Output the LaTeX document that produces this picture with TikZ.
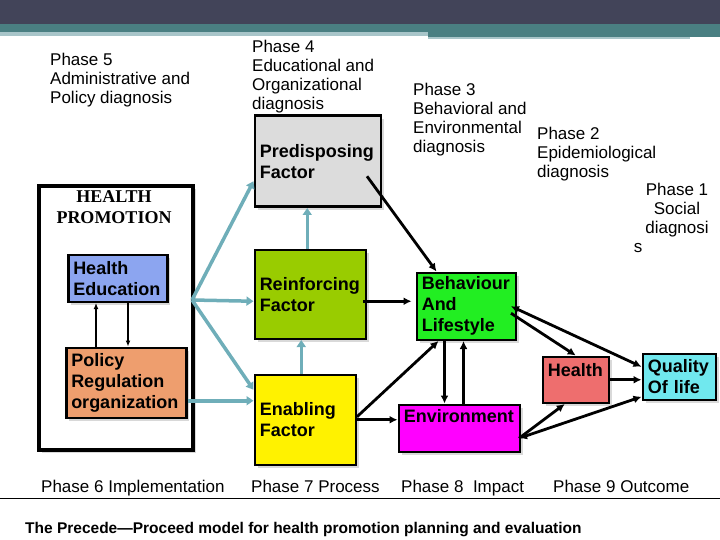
\documentclass[tikz,border=0pt]{standalone}
\usepackage{fontspec}
\setmainfont{Liberation Sans}
\newfontfamily\hpfont{Liberation Serif}
\usetikzlibrary{arrows.meta, positioning, shadows}
\usepackage{xcolor}
\definecolor{tl}{HTML}{6FAEB9}
\definecolor{bandD}{HTML}{424459}
\definecolor{bandT}{HTML}{4A7F82}
\definecolor{bandL}{HTML}{A8C5C9}
\definecolor{preG}{HTML}{DCDCDC}
\definecolor{reiG}{HTML}{99CC00}
\definecolor{behG}{HTML}{22EE22}
\definecolor{envM}{HTML}{FF00FF}
\definecolor{hltR}{HTML}{EE6E6E}
\definecolor{qolC}{HTML}{70E8EE}
\definecolor{hedB}{HTML}{8CA5F0}
\definecolor{polO}{HTML}{EE9E6E}

\begin{document}
\begin{tikzpicture}[x=1pt, y=-1pt,
    box/.style={draw, line width=2.5pt, fill=#1, anchor=north west, align=left, inner xsep=5pt, inner ysep=0pt,
      font=\bfseries\fontsize{18}{21}\selectfont, drop shadow={shadow xshift=3pt, shadow yshift=-3pt, opacity=0.3}},
    phase/.style={anchor=north west, align=left, inner sep=0pt, font=\fontsize{17}{19}\selectfont},
    bphase/.style={anchor=base west, inner sep=0pt, font=\fontsize{17}{19}\selectfont},
    tarr/.style={->, draw=tl, line width=3.5pt, >={Triangle[length=7pt, width=9pt]}},
    barr/.style={->, line width=2.8pt, >={Latex[length=8pt, width=8pt]}},
    sarr/.style={->, line width=1.6pt, >={Latex[length=6pt, width=5pt]}}]
  \useasboundingbox (0,0) rectangle (720,540);

  % top band
  \fill[bandD] (0,0) rectangle (720,24);
  \fill[bandT] (0,24) rectangle (720,32);
  \fill[bandL] (0,32) rectangle (428,36);
  \fill[bandT] (428,32) rectangle (720,37);
  \fill[bandL] (428,37) rectangle (690,39);

  % phase headings
  \node[phase] (p5) at (50,53) {Phase 5\\Administrative and\\Policy diagnosis};
  \node[phase] (p4) at (252,40) {Phase 4\\Educational and\\Organizational\\diagnosis};
  \node[phase] (p3) at (413,83) {Phase 3\\Behavioral and\\Environmental\\diagnosis};
  \node[phase] (p2) at (537,127) {Phase 2\\Epidemiological\\diagnosis};
  \node[phase, anchor=north, align=center] (p1) at (677,183) {Phase 1\\Social\\diagnosi\\s\hspace*{78pt}};

  % health promotion
  \node[box=white, line width=4pt, minimum width=154pt, minimum height=264pt] (hp) at (37,184) {};
  \node[anchor=north, align=center, inner sep=0pt, font=\hpfont\bfseries\fontsize{18}{21}\selectfont] (hptitle) at (114,190) {HEALTH\\PROMOTION};
  \node[box=hedB, text width=89pt, minimum height=47pt] (hed) at (67,253.5) {Health\\Education};
  \node[box=polO, text width=110pt, minimum height=70pt] (pol) at (65,346.5) {Policy\\Regulation\\organization};
  \draw[sarr] ([xshift=31pt]pol.north west) -- ([xshift=31pt]pol.north west |- hed.south);
  \draw[sarr] ([xshift=61pt]hed.south west) -- ([xshift=61pt]hed.south west |- pol.north);

  % factors
  \node[box=preG, text width=116pt, minimum height=91pt] (pre) at (253.5,114.5) {Predisposing\\Factor};
  \node[box=reiG, text width=101pt, minimum height=89pt] (rei) at (253.5,248.5) {Reinforcing\\Factor};
  \node[box=yellow, text width=91pt, minimum height=90pt] (ena) at (253.5,373.5) {Enabling\\Factor};

  % impact and outcome
  \node[box=behG, text width=89pt, minimum height=67pt] (beh) at (415.5,271.5) {Behaviour\\And\\Lifestyle};
  \node[box=envM, text width=111pt, minimum height=47pt, text depth=24pt] (env) at (397.5,403.5) {Environment};
  \node[box=hltR, text width=56pt, minimum height=46pt, text depth=19pt] (hlt) at (541.5,355.5) {Health};
  \node[box=qolC, text width=63pt, minimum height=46pt] (qol) at (641.5,352.5) {Quality\\Of life};

  % teal links
  \coordinate (hub) at (192,300);
  \draw[tarr] (hub) -- ([yshift=-20pt]pre.west);
  \draw[tarr] (hub) -- ([yshift=-7pt]rei.west);
  \draw[tarr] (hub) -- ([yshift=30pt]ena.west);
  \draw[tarr] ([yshift=-18pt]pol.east) -- ([yshift=-18pt]pol.east -| ena.west);
  \draw[tarr] ([xshift=-3pt]rei.north) -- ([xshift=-3pt]rei.north |- pre.south);
  \draw[tarr] ([xshift=-4pt]ena.north) -- ([xshift=-4pt]ena.north |- rei.south);

  % black links
  \draw[barr] ([shift={(-15pt,-15pt)}]pre.east) -- ([xshift=21pt]beh.north west);
  \draw[barr] ([shift={(-4pt,-7pt)}]rei.east) -- ([shift={(-4pt,-7pt)}]rei.east -| beh.west);
  \draw[barr] ([yshift=3pt]ena.east) -- ([xshift=23pt]beh.south west);
  \draw[barr] (ena.east) -- (ena.east -| env.west);
  \draw[barr] ([xshift=29pt]beh.south west) -- ([xshift=29pt]beh.south west |- env.north);
  \draw[barr] ([xshift=48pt]beh.south west |- env.north) -- ([xshift=48pt]beh.south west);
  \draw[barr] ([shift={(-6pt,-7pt)}]beh.east) -- (hlt.north);
  \draw[barr, <->] ([xshift=-6pt]beh.east) -- ([yshift=10pt]qol.west);
  \draw[barr] (hlt.east) -- (hlt.east -| qol.west);
  \draw[barr, <->] ([shift={(-2pt,-10pt)}]env.east) -- ([yshift=-20pt]qol.west);
  \draw[barr] ([shift={(-2pt,-10pt)}]env.east) -- ([xshift=-11pt]hlt.south);

  % bottom phases
  \node[bphase] (p6) at (41,492) {Phase 6 Implementation};
  \node[bphase] (p7) at (251,492) {Phase 7 Process};
  \node[bphase] (p8) at (401,492) {Phase 8\ \ Impact};
  \node[bphase] (p9) at (553,492) {Phase 9 Outcome};
  \draw[line width=0.8pt] (0,498) -- (720,498);

  \node[anchor=base west, inner sep=0pt, font=\bfseries\fontsize{15.5}{18}\selectfont] (cap) at (25,533)
    {The Precede—Proceed model for health promotion planning and evaluation};
\end{tikzpicture}
\end{document}
